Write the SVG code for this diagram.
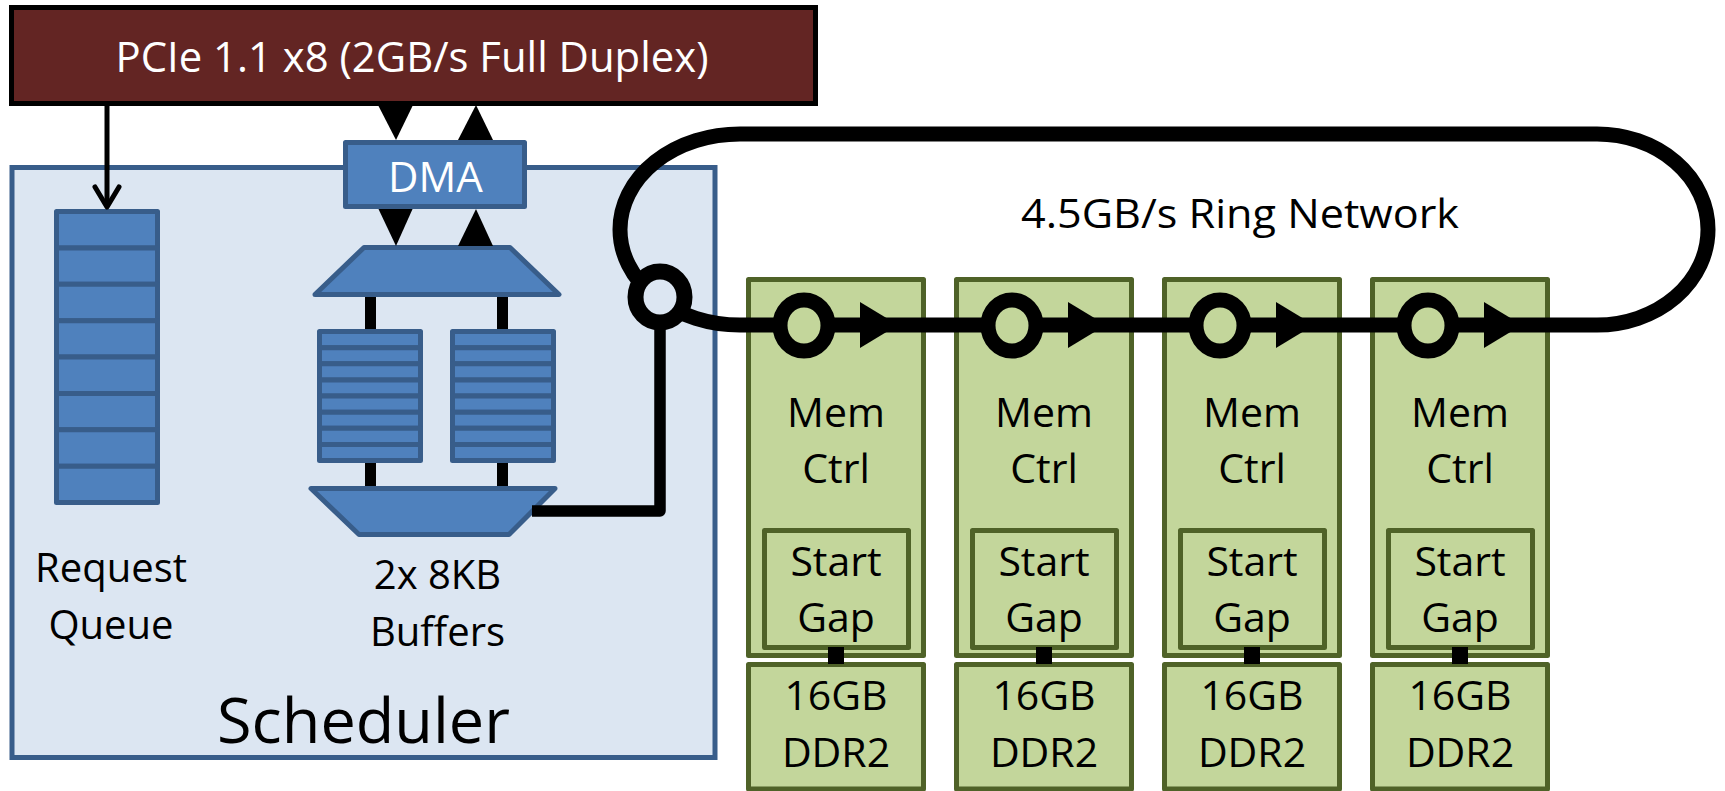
<svg xmlns="http://www.w3.org/2000/svg" width="1725" height="791" viewBox="0 0 1725 791">
<style>
.t{font-family:"Open Sans","Liberation Sans",sans-serif;fill:#000;text-anchor:middle}
.w{fill:#fff}
.blue{fill:#4f81bd;stroke:#385d8a;stroke-width:5;stroke-linejoin:round}
.green{fill:#c3d69b;stroke:#4f6228;stroke-width:5;stroke-linejoin:round}
.ring{fill:none;stroke:#000;stroke-width:15}
.gnode{fill:#c3d69b;stroke:#000;stroke-width:15}
.bar{fill:#000}
</style>
<rect x="0" y="0" width="1725" height="791" fill="#fff"/>

<g id="scheduler">
  <rect x="12" y="167.5" width="703" height="590" fill="#dce6f2" stroke="#385d8a" stroke-width="5"/>
  <text class="t" x="363.5" y="743" font-size="63">Scheduler</text>
</g>

<g id="request-queue">
  <rect class="blue" x="56.5" y="211.5" width="101" height="36.375"/>
  <rect class="blue" x="56.5" y="247.875" width="101" height="36.375"/>
  <rect class="blue" x="56.5" y="284.25" width="101" height="36.375"/>
  <rect class="blue" x="56.5" y="320.625" width="101" height="36.375"/>
  <rect class="blue" x="56.5" y="357" width="101" height="36.375"/>
  <rect class="blue" x="56.5" y="393.375" width="101" height="36.375"/>
  <rect class="blue" x="56.5" y="429.75" width="101" height="36.375"/>
  <rect class="blue" x="56.5" y="466.125" width="101" height="36.375"/>
  <text class="t" x="111" y="582" font-size="40">Request</text>
  <text class="t" x="111" y="639" font-size="40">Queue</text>
</g>

<g id="buffers">
  <rect class="bar" x="365" y="295" width="11" height="36"/>
  <rect class="bar" x="497" y="295" width="11" height="36"/>
  <rect class="bar" x="365" y="457" width="11" height="32"/>
  <rect class="bar" x="497" y="457" width="11" height="32"/>
  <polygon class="blue" points="364,247.5 510,247.5 559,294.5 315,294.5"/>
  <g id="buffer-left">
    <rect class="blue" x="319.5" y="331.5" width="101" height="16.125"/>
    <rect class="blue" x="319.5" y="347.625" width="101" height="16.125"/>
    <rect class="blue" x="319.5" y="363.75" width="101" height="16.125"/>
    <rect class="blue" x="319.5" y="379.875" width="101" height="16.125"/>
    <rect class="blue" x="319.5" y="396" width="101" height="16.125"/>
    <rect class="blue" x="319.5" y="412.125" width="101" height="16.125"/>
    <rect class="blue" x="319.5" y="428.25" width="101" height="16.125"/>
    <rect class="blue" x="319.5" y="444.375" width="101" height="16.125"/>
  </g>
  <g id="buffer-right">
    <rect class="blue" x="452.5" y="331.5" width="101" height="16.125"/>
    <rect class="blue" x="452.5" y="347.625" width="101" height="16.125"/>
    <rect class="blue" x="452.5" y="363.75" width="101" height="16.125"/>
    <rect class="blue" x="452.5" y="379.875" width="101" height="16.125"/>
    <rect class="blue" x="452.5" y="396" width="101" height="16.125"/>
    <rect class="blue" x="452.5" y="412.125" width="101" height="16.125"/>
    <rect class="blue" x="452.5" y="428.25" width="101" height="16.125"/>
    <rect class="blue" x="452.5" y="444.375" width="101" height="16.125"/>
  </g>
  <polygon class="blue" points="311,488.5 555,488.5 509,534.5 359,534.5"/>
  <text class="t" x="437.5" y="589" font-size="40">2x 8KB</text>
  <text class="t" x="437.5" y="646" font-size="40">Buffers</text>
</g>

<g id="memctrl-1">
  <rect class="green" x="748.5" y="279.5" width="175" height="376"/>
  <rect class="green" x="764.5" y="530.5" width="144" height="117"/>
  <rect class="green" x="748.5" y="664.5" width="175" height="124.5"/>
  <text class="t" x="836" y="427" font-size="41">Mem</text>
  <text class="t" x="836" y="483" font-size="41">Ctrl</text>
  <text class="t" x="836" y="576" font-size="41">Start</text>
  <text class="t" x="836" y="632" font-size="41">Gap</text>
  <text class="t" x="836" y="710" font-size="41">16GB</text>
  <text class="t" x="836" y="767" font-size="41">DDR2</text>
</g>
<g id="memctrl-2">
  <rect class="green" x="956.5" y="279.5" width="175" height="376"/>
  <rect class="green" x="972.5" y="530.5" width="144" height="117"/>
  <rect class="green" x="956.5" y="664.5" width="175" height="124.5"/>
  <text class="t" x="1044" y="427" font-size="41">Mem</text>
  <text class="t" x="1044" y="483" font-size="41">Ctrl</text>
  <text class="t" x="1044" y="576" font-size="41">Start</text>
  <text class="t" x="1044" y="632" font-size="41">Gap</text>
  <text class="t" x="1044" y="710" font-size="41">16GB</text>
  <text class="t" x="1044" y="767" font-size="41">DDR2</text>
</g>
<g id="memctrl-3">
  <rect class="green" x="1164.5" y="279.5" width="175" height="376"/>
  <rect class="green" x="1180.5" y="530.5" width="144" height="117"/>
  <rect class="green" x="1164.5" y="664.5" width="175" height="124.5"/>
  <text class="t" x="1252" y="427" font-size="41">Mem</text>
  <text class="t" x="1252" y="483" font-size="41">Ctrl</text>
  <text class="t" x="1252" y="576" font-size="41">Start</text>
  <text class="t" x="1252" y="632" font-size="41">Gap</text>
  <text class="t" x="1252" y="710" font-size="41">16GB</text>
  <text class="t" x="1252" y="767" font-size="41">DDR2</text>
</g>
<g id="memctrl-4">
  <rect class="green" x="1372.5" y="279.5" width="175" height="376"/>
  <rect class="green" x="1388.5" y="530.5" width="144" height="117"/>
  <rect class="green" x="1372.5" y="664.5" width="175" height="124.5"/>
  <text class="t" x="1460" y="427" font-size="41">Mem</text>
  <text class="t" x="1460" y="483" font-size="41">Ctrl</text>
  <text class="t" x="1460" y="576" font-size="41">Start</text>
  <text class="t" x="1460" y="632" font-size="41">Gap</text>
  <text class="t" x="1460" y="710" font-size="41">16GB</text>
  <text class="t" x="1460" y="767" font-size="41">DDR2</text>
</g>

<g id="pcie">
  <rect x="11.5" y="7.5" width="804" height="96" fill="#632523" stroke="#000" stroke-width="5"/>
  <text class="t w" x="412" y="72" font-size="42" textLength="593" lengthAdjust="spacingAndGlyphs">PCIe 1.1 x8 (2GB/s Full Duplex)</text>
</g>

<g id="connectors">
  <line x1="107" y1="105" x2="107" y2="205" stroke="#000" stroke-width="5"/>
  <polyline points="95,187 107,207 119,187" fill="none" stroke="#000" stroke-width="5" stroke-linecap="round" stroke-linejoin="round"/>
  <polygon points="378,105 413,105 396,140" fill="#000"/>
  <polygon points="458,140 493,140 476,105" fill="#000"/>
  <polygon points="378,208 413,208 396,246" fill="#000"/>
  <polygon points="458,246 493,246 476,209" fill="#000"/>
  <path d="M532,511 H660 V300" fill="none" stroke="#000" stroke-width="11.5" stroke-linejoin="round"/>
  <path class="ring" d="M740,134 H1597 A111,95.5 0 0 1 1597,325 H740 A120,95.5 0 0 1 740,134 Z"/>
  <ellipse cx="660" cy="297" rx="24.5" ry="25.5" fill="#dce6f2" stroke="#000" stroke-width="16"/>
  <ellipse class="gnode" cx="804" cy="325.5" rx="24" ry="25.5"/>
  <ellipse class="gnode" cx="1012" cy="325.5" rx="24" ry="25.5"/>
  <ellipse class="gnode" cx="1220" cy="325.5" rx="24" ry="25.5"/>
  <ellipse class="gnode" cx="1428" cy="325.5" rx="24" ry="25.5"/>
  <polygon points="860,302 898,325 860,348" fill="#000"/>
  <polygon points="1068,302 1106,325 1068,348" fill="#000"/>
  <polygon points="1276,302 1314,325 1276,348" fill="#000"/>
  <polygon points="1484,302 1522,325 1484,348" fill="#000"/>
  <rect class="bar" x="828" y="647" width="16" height="17"/>
  <rect class="bar" x="1036" y="647" width="16" height="17"/>
  <rect class="bar" x="1244" y="647" width="16" height="17"/>
  <rect class="bar" x="1452" y="647" width="16" height="17"/>
</g>

<g id="dma">
  <rect class="blue" x="345.5" y="142.5" width="179" height="64"/>
  <text class="t w" x="435.5" y="192" font-size="42">DMA</text>
</g>

<text class="t" x="1240" y="228" font-size="40" textLength="438" lengthAdjust="spacingAndGlyphs">4.5GB/s Ring Network</text>
</svg>
